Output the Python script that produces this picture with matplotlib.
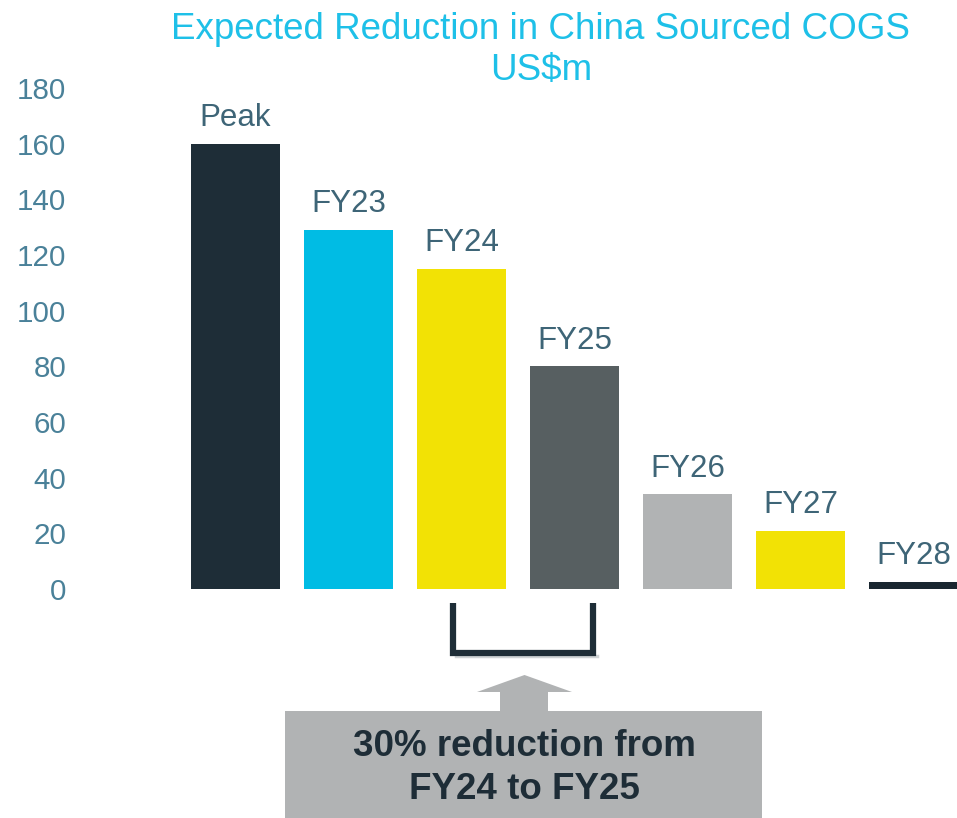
import matplotlib
matplotlib.use("Agg")
import matplotlib.pyplot as plt
from matplotlib.patches import Rectangle, Polygon

plt.rcParams['font.family'] = ['Liberation Sans', 'DejaVu Sans']

categories = ["Peak", "FY23", "FY24", "FY25", "FY26", "FY27", "FY28"]
values = [160, 129, 115, 80, 34, 21, 2.5]
colors = ["#1e2d37", "#00bce4", "#f2e205", "#575f61", "#b1b3b4", "#f2e205", "#1a2730"]
yticks = [0, 20, 40, 60, 80, 100, 120, 140, 160, 180]
title = "Expected Reduction in China Sourced COGS\nUS$m"
callout = "30% reduction from\nFY24 to FY25"

W, H = 957, 818
fig = plt.figure(figsize=(W / 100, H / 100), dpi=100)
ax_left, ax_right = 80, 957
ax_bottom, ax_top = 589, 88
ax = fig.add_axes([ax_left / W, (H - ax_bottom) / H, (ax_right - ax_left) / W, (ax_bottom - ax_top) / H])

x = list(range(len(categories)))
ax.bar(x, values, width=0.79, color=colors, zorder=2)
ax.set_xlim(-1.376, 6.385)
ax.set_ylim(0, 180)
ax.set_yticks(yticks)
ax.set_yticklabels([str(t) for t in yticks], fontsize=21.3, color="#4a8199")
ax.tick_params(axis='y', length=0, pad=10)
ax.set_xticks([])
for s in ax.spines.values():
    s.set_visible(False)

for xi, v, c in zip(x, values, categories):
    ax.text(xi, v + 3.8, c, ha='center', va='bottom', fontsize=22.5, color="#3e6577", clip_on=False)

fig.text(0.565, 0.985, title, ha='center', va='top', fontsize=26.5, color="#1ec0e8", linespacing=1.2)

# bracket under FY24 and FY25
i24, i25 = categories.index("FY24"), categories.index("FY25")
bx0, bx1 = i24 - 0.075, i25 + 0.165
ax.plot([bx0, bx0, bx1, bx1], [-5, -23, -23, -5], color="#1e2d37", lw=4.5,
        solid_joinstyle='miter', solid_capstyle='butt', clip_on=False, zorder=3)
ax.plot([bx0 + 0.03, bx1 + 0.03], [-24.2, -24.2], color="#cfd3d5", lw=2.5, clip_on=False, zorder=2)

# arrow and callout box (figure pixel coords)
def fx(px):
    return px / W

def fy(py):
    return (H - py) / H

arrow = Polygon([(fx(500), fy(711)), (fx(500), fy(692)), (fx(477), fy(692)), (fx(524.5), fy(675)),
                 (fx(572), fy(692)), (fx(548), fy(692)), (fx(548), fy(711))],
                closed=True, transform=fig.transFigure, facecolor="#b1b3b4", edgecolor='none')
fig.add_artist(arrow)
box = Rectangle((fx(285), fy(818)), fx(762) - fx(285), fy(711) - fy(818), transform=fig.transFigure,
                facecolor="#b1b3b4", edgecolor='none')
fig.add_artist(box)
fig.text(fx(524), fy(768), callout, ha='center', va='center', fontsize=26.5, fontweight='bold',
         color="#1e2d37", linespacing=1.3)

fig.savefig("out.png", dpi=100)
